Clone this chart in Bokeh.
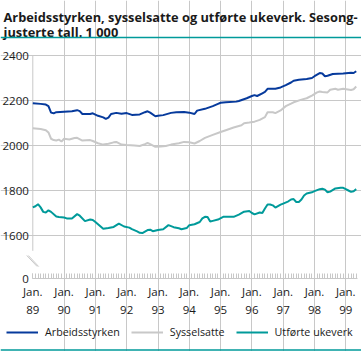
from bokeh.plotting import figure
from bokeh.models import (Range1d, FixedTicker, Legend, LegendItem, Label, Arrow,
                          ColumnDataSource)
from bokeh.embed import file_html
from bokeh.resources import INLINE

# ---------------- data ----------------
title_lines = ["Arbeidsstyrken, sysselsatte og utførte ukeverk. Sesong-",
               "justerte tall. 1 000"]
series_names = ["Arbeidsstyrken", "Sysselsatte", "Utførte ukeverk"]

# month index counted from January 1989
arb_month = [0, 3, 5, 6, 7, 8, 9, 12, 15, 17, 18, 19, 22, 23, 25, 27, 28, 29, 30, 32,
             34, 36, 38, 41, 43, 44, 45, 47, 48, 50, 53, 55, 58, 60, 62, 63, 66, 69,
             71, 72, 74, 78, 79, 82, 84, 85, 86, 88, 89, 90, 93, 95, 97, 99, 100, 102,
             105, 107, 108, 110, 111, 112, 113, 115, 119, 122, 123, 124]
arb_value = [2188, 2185, 2182, 2175, 2146, 2143, 2148, 2150, 2152, 2157, 2153, 2140,
             2140, 2143, 2132, 2125, 2118, 2124, 2140, 2145, 2141, 2144, 2136, 2138,
             2148, 2152, 2146, 2130, 2132, 2135, 2145, 2148, 2149, 2146, 2140, 2155,
             2163, 2175, 2185, 2190, 2192, 2195, 2198, 2210, 2220, 2224, 2220, 2232,
             2238, 2252, 2252, 2258, 2268, 2280, 2288, 2292, 2296, 2300, 2308, 2322,
             2320, 2308, 2310, 2318, 2320, 2323, 2322, 2330]

sys_month = [0, 3, 5, 6, 7, 8, 9, 10, 11, 12, 14, 16, 17, 19, 22, 23, 25, 27, 29, 31,
             32, 34, 36, 39, 41, 43, 44, 45, 47, 49, 51, 53, 56, 58, 60, 62, 64, 66,
             69, 72, 74, 77, 80, 81, 83, 85, 87, 89, 90, 92, 93, 95, 97, 99, 100, 103,
             105, 107, 109, 110, 111, 113, 114, 116, 117, 119, 122, 123, 124]
sys_value = [2077, 2073, 2068, 2058, 2030, 2024, 2022, 2026, 2018, 2030, 2027, 2033,
             2034, 2022, 2024, 2020, 2010, 2004, 2008, 2014, 2016, 2004, 2002, 2000,
             1998, 2006, 2011, 2006, 1994, 1996, 1998, 2004, 2010, 2016, 2014, 2009,
             2020, 2034, 2047, 2060, 2068, 2080, 2090, 2099, 2102, 2106, 2114, 2126,
             2148, 2148, 2144, 2156, 2175, 2186, 2192, 2204, 2210, 2222, 2236, 2240,
             2238, 2236, 2248, 2252, 2248, 2252, 2247, 2250, 2262]

utf_month = [0, 1, 2, 3, 4, 5, 6, 7, 9, 10, 12, 13, 15, 17, 18, 20, 22, 23, 24, 26,
             27, 29, 31, 33, 35, 37, 38, 40, 41, 42, 44, 45, 46, 48, 50, 52, 54, 56,
             57, 59, 60, 62, 64, 65, 66, 67, 68, 69, 71, 73, 77, 79, 81, 83, 84, 85,
             87, 88, 89, 90, 91, 92, 93, 95, 96, 98, 99, 100, 101, 102, 103, 104, 105,
             107, 108, 110, 111, 112, 113, 114, 116, 118, 119, 120, 121, 122, 123, 124]
utf_value = [1725, 1730, 1739, 1725, 1705, 1702, 1712, 1705, 1684, 1682, 1680, 1676,
             1676, 1695, 1688, 1664, 1671, 1669, 1660, 1640, 1630, 1633, 1638, 1653,
             1640, 1635, 1628, 1618, 1612, 1611, 1624, 1626, 1619, 1624, 1628, 1646,
             1637, 1632, 1628, 1633, 1646, 1650, 1660, 1676, 1683, 1682, 1662, 1665,
             1671, 1683, 1683, 1693, 1706, 1709, 1700, 1694, 1702, 1700, 1720, 1738,
             1738, 1734, 1724, 1737, 1742, 1752, 1760, 1762, 1749, 1749, 1760, 1778,
             1787, 1792, 1797, 1806, 1808, 1804, 1792, 1795, 1809, 1812, 1812, 1806,
             1800, 1794, 1797, 1806]

y_ticks = [1600, 1800, 2000, 2200, 2400]
y_zero_at = 1407          # position on the broken axis that carries the label "0"
x_tick_years = list(range(1989, 2000))
x_tick_labels = ["Jan.\n" + str(y)[2:] for y in x_tick_years]
n_months = 125

# ---------------- style ----------------
BLUE = "#063a9c"
GREY = "#c8c8c8"
TEAL = "#009a9a"
GRID = "#c8c8c8"
FONT = "Open Sans"
TXT = "#1a1a1a"

W, H = 361, 351
X0_PX, PX_PER_YEAR = 32.3, 31.3       # where Jan. 89 sits, and year width
Y2400_PX, PX_PER_UNIT = 55.0, 0.225   # where 2400 sits, and unit height
x_end = 1989 + 124.4 / 12
axis_break_top = 1532


def to_year(months):
    return [1989 + m / 12 for m in months]


x_lo = 1989 - X0_PX / PX_PER_YEAR
x_hi = 1989 + (W - X0_PX) / PX_PER_YEAR
y_hi = 2400 + Y2400_PX / PX_PER_UNIT
y_lo = 2400 - (H - Y2400_PX) / PX_PER_UNIT

p = figure(width=W, height=H, output_backend="svg", toolbar_location=None,
           x_range=Range1d(x_lo, x_hi), y_range=Range1d(y_lo, y_hi),
           min_border=0)
p.outline_line_color = None
p.background_fill_color = "white"
p.border_fill_color = "white"

# y axis: drawn at Jan. 89, labels include the "0" of the broken axis
p.yaxis.fixed_location = 1989
p.yaxis.ticker = FixedTicker(ticks=[y_zero_at] + y_ticks)
p.yaxis.major_label_overrides = {y_zero_at: "0"}
p.yaxis.axis_line_color = None
p.yaxis.major_tick_line_color = None
p.yaxis.major_tick_in = 0
p.yaxis.major_tick_out = 0
p.yaxis.minor_tick_line_color = None
p.yaxis.minor_tick_in = 0
p.yaxis.minor_tick_out = 0
p.yaxis.major_label_standoff = 4
p.yaxis.major_label_text_font = FONT
p.yaxis.major_label_text_font_size = "11.5px"
p.yaxis.major_label_text_color = TXT
# visible part of the y axis line (above the break)
p.segment(x0=[1989], y0=[axis_break_top], x1=[1989], y1=[2400],
          line_color=GRID, line_width=1)

# x axis at the "0" level
p.xaxis.fixed_location = y_zero_at
p.xaxis.bounds = (1989, x_end)
p.xaxis.ticker = FixedTicker(ticks=x_tick_years,
                             minor_ticks=[1989 + m / 12 for m in range(n_months)])
p.xaxis.major_label_overrides = dict(zip(x_tick_years, x_tick_labels))
p.xaxis.axis_line_color = GRID
p.xaxis.major_tick_line_color = GRID
p.xaxis.major_tick_in = 5
p.xaxis.major_tick_out = 0
p.xaxis.minor_tick_line_color = GRID
p.xaxis.minor_tick_in = 5
p.xaxis.minor_tick_out = 0
p.xaxis.major_label_standoff = 5
p.xaxis.major_label_text_font = FONT
p.xaxis.major_label_text_font_size = "11.5px"
p.xaxis.major_label_text_line_height = 1.2
p.xaxis.major_label_text_color = TXT

p.xgrid.ticker = FixedTicker(ticks=x_tick_years[1:])
p.xgrid.bounds = (y_zero_at, 2400)
p.ygrid.ticker = FixedTicker(ticks=y_ticks)
p.ygrid.bounds = (1989, x_end)
p.xgrid.grid_line_color = GRID
p.ygrid.grid_line_color = GRID

# axis break marks
for dx in (0.0, 0.048):
    p.add_layout(Arrow(x_start=1989 - 6 / PX_PER_YEAR + dx, y_start=1511,
                       x_end=1989 + 4.4 / PX_PER_YEAR + dx, y_end=1462,
                       start=None, end=None, line_color=GRID, line_width=1))

# series
renderers = []
for months, vals, col in ((arb_month, arb_value, BLUE),
                          (sys_month, sys_value, GREY),
                          (utf_month, utf_value, TEAL)):
    src = ColumnDataSource(dict(x=to_year(months), y=vals))
    renderers.append(p.line("x", "y", source=src, line_color=col, line_width=2))

legend = Legend(items=[LegendItem(label=n, renderers=[r])
                       for n, r in zip(series_names, renderers)],
                orientation="horizontal", location=(6, 12),
                glyph_width=32, glyph_height=14, label_standoff=7, spacing=11,
                padding=0, margin=0, border_line_color=None,
                background_fill_alpha=0, label_text_font=FONT,
                label_text_font_size="10.7px", label_text_color=TXT)
p.add_layout(legend, "center")

# title and rules (screen units measured from the bottom-left of the canvas)
p.add_layout(Label(x=3, y=H - 16, x_units="screen", y_units="screen",
                   text=title_lines[0], text_font=FONT, text_font_style="bold",
                   text_font_size="12.8px", text_color=TXT, text_baseline="alphabetic"))
p.add_layout(Label(x=3, y=H - 31, x_units="screen", y_units="screen",
                   text=title_lines[1], text_font=FONT, text_font_style="bold",
                   text_font_size="12.8px", text_color=TXT, text_baseline="alphabetic"))
for ry in (H - 37, 1.5):
    p.add_layout(Arrow(x_start=0, y_start=ry, x_end=W, y_end=ry,
                       start_units="screen", end_units="screen",
                       start=None, end=None, line_color=TEAL, line_width=1.5))

open("out.html", "w").write(file_html(p, INLINE))
